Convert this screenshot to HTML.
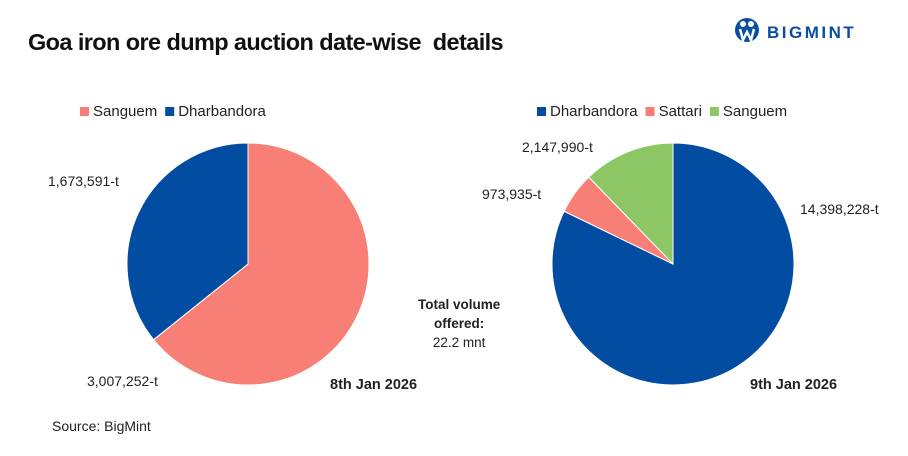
<!DOCTYPE html>
<html><head><meta charset="utf-8">
<style>
body{margin:0;width:908px;height:456px;background:#fff;font-family:"Liberation Sans",Arial,sans-serif;overflow:hidden;position:relative}
.t{position:absolute;white-space:nowrap;color:#222}
</style></head><body>
<div class="t" style="left:28px;top:29px;font-size:23.5px;font-weight:bold;color:#111;letter-spacing:-0.6px">Goa iron ore dump auction date-wise&nbsp; details</div>
<svg style="position:absolute;left:735px;top:14px" width="150" height="32">
<circle cx="12" cy="16" r="12" fill="#0a4ea2"/>
<circle cx="8" cy="10" r="3" fill="#fff"/><circle cx="16" cy="10" r="3" fill="#fff"/>
<path d="M5 15 L8 26 L12 18 L16 26 L19 15" stroke="#fff" stroke-width="2.5" fill="none"/>
<text x="32" y="24" font-family="Liberation Sans" font-weight="bold" font-size="17" fill="#0a4ea2" letter-spacing="2.5">BIGMINT</text>
</svg>
<svg id="c" width="908" height="456" style="position:absolute;left:0;top:0"></svg>
<div class="t" style="left:418px;top:295px;font-size:13.5px;text-align:center;line-height:19px"><b>Total volume<br>offered:</b><br>22.2 mnt</div>
<div class="t" style="left:52px;top:418px;font-size:14px">Source: BigMint</div>
<script>
const pie1Labels=["Sanguem","Dharbandora"];
const pie1Values=[3007252,1673591];
const pie1Colors=["#F77F76","#024DA1"];
const pie2Labels=["Dharbandora","Sattari","Sanguem"];
const pie2Values=[14398228,973935,2147990];
const pie2Colors=["#024DA1","#F77F76","#8DC665"];
const NS="http://www.w3.org/2000/svg";
const svg=document.getElementById('c');
function mk(t,a){const e=document.createElementNS(NS,t);for(const k in a)e.setAttribute(k,a[k]);svg.appendChild(e);return e;}
function txt(x,y,s,anchor,size,weight){const e=mk('text',{x:x,y:y,'font-size':size||14,'text-anchor':anchor||'start','font-family':'Liberation Sans',fill:'#222','font-weight':weight||'normal'});e.textContent=s;return e;}
function fmt(v){return v.toLocaleString('en-US')+'-t';}
function pie(cx,cy,r,vals,cols,names,id){
  const tot=vals.reduce((a,b)=>a+b,0);let a0=0;
  vals.forEach((v,i)=>{
    const a1=a0+v/tot*2*Math.PI;
    const x0=cx+r*Math.sin(a0),y0=cy-r*Math.cos(a0),x1=cx+r*Math.sin(a1),y1=cy-r*Math.cos(a1);
    const p=mk('path',{d:`M${cx},${cy}L${x0},${y0}A${r},${r} 0 ${a1-a0>Math.PI?1:0} 1 ${x1},${y1}Z`,fill:cols[i],stroke:'#fff','stroke-width':1});
    
    
    a0=a1;
  });
}
pie(248,264,121,pie1Values,pie1Colors,pie1Labels,'pie1');
pie(673,264,121,pie2Values,pie2Colors,pie2Labels,'pie2');
let l;
l=txt(48,186,fmt(pie1Values[1]));
l=txt(87,386,fmt(pie1Values[0]));
l=txt(800,214,fmt(pie2Values[0]));
l=txt(482,199,fmt(pie2Values[1]));
l=txt(522,152,fmt(pie2Values[2]));
l=txt(330,389,'8th Jan 2026','start',14.5,'bold');
l=txt(750,389,'9th Jan 2026','start',14.5,'bold');
function legend(x,y,names,cols,id){
  let cx=x;
  names.forEach((n,i)=>{
    const r=mk('rect',{x:cx,y:y-9,width:9,height:9,fill:cols[i]});
    
    
    const t=txt(cx+13,y,n,'start',15);
    
    
    cx+=13+t.getComputedTextLength()+8;
  });
}
legend(80,116,pie1Labels,pie1Colors,'pie1');
legend(537,116,pie2Labels,pie2Colors,'pie2');
</script>
</body></html>
